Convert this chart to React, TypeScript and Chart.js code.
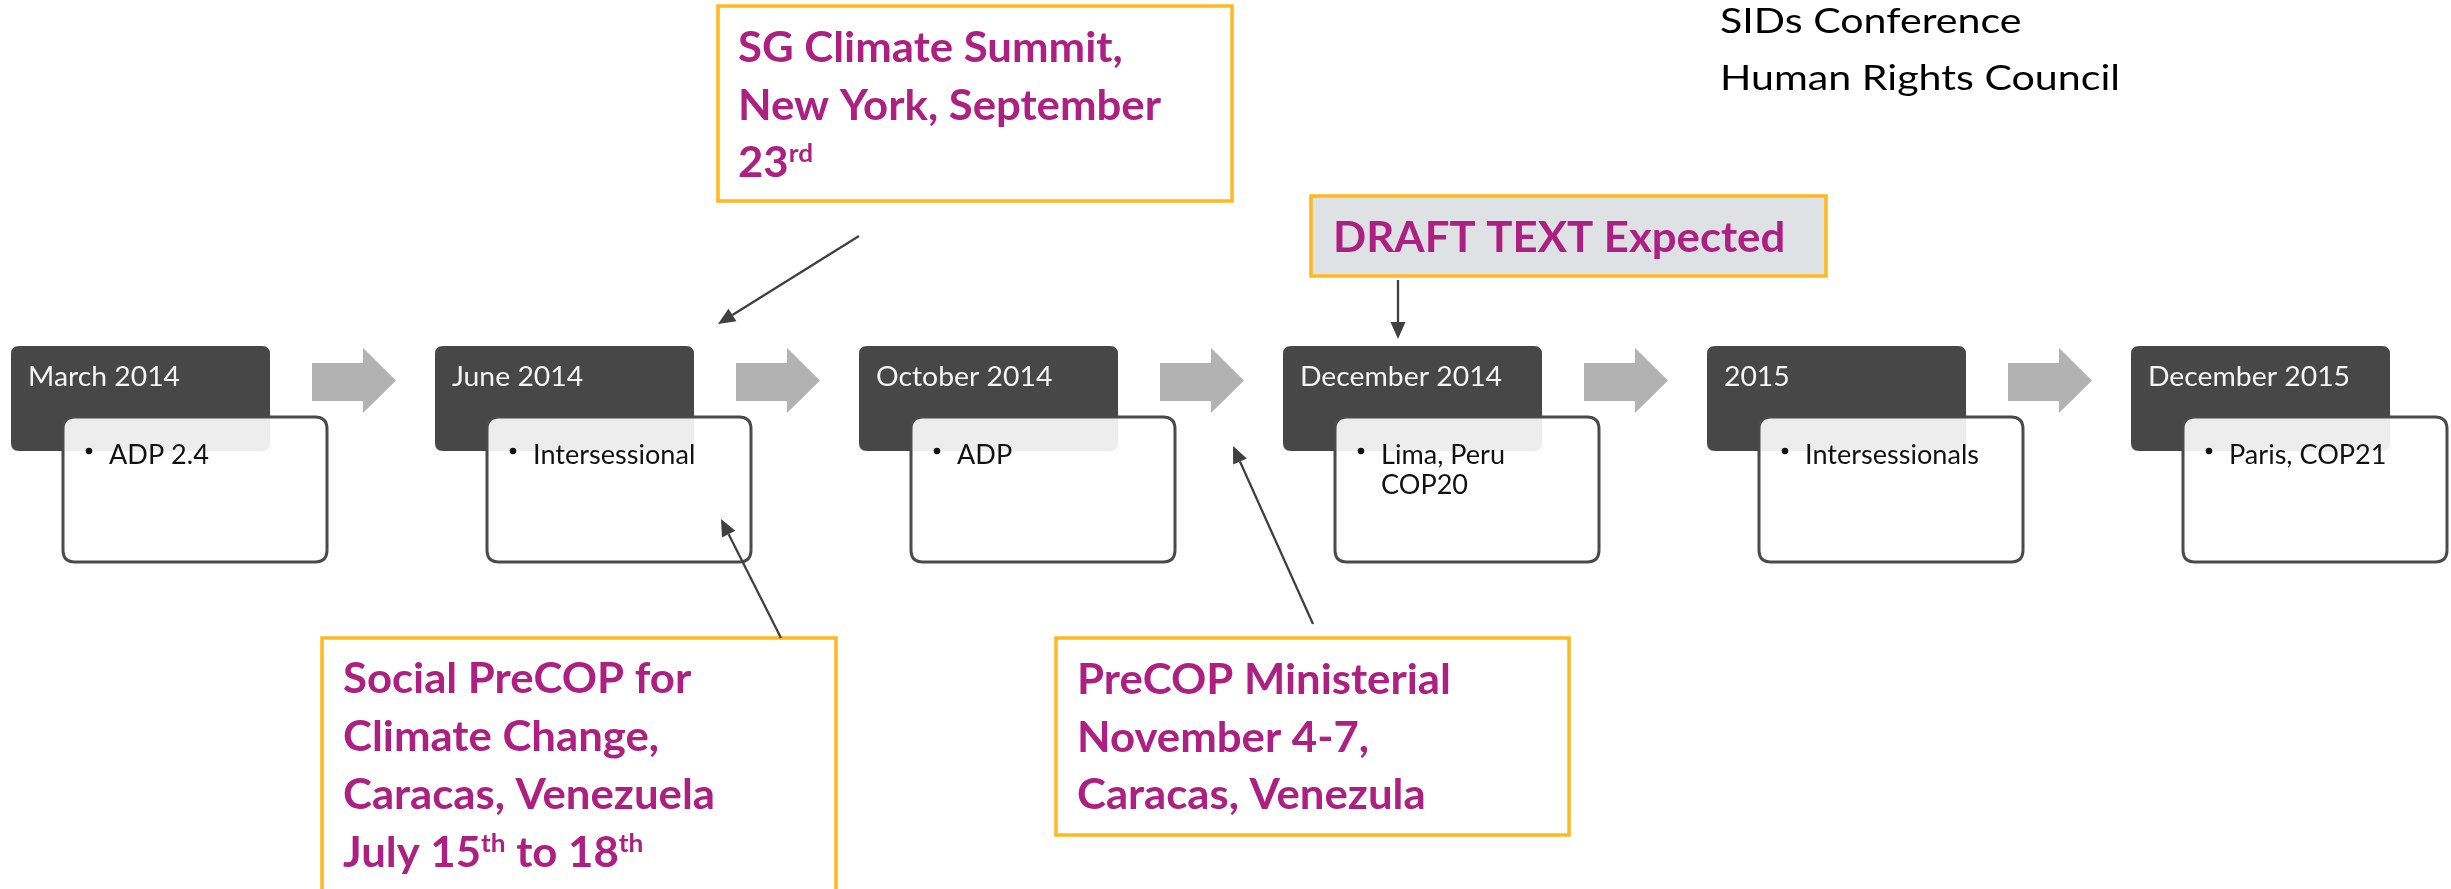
import React, { useEffect, useRef } from "react";
import { Chart, registerables } from "chart.js";

Chart.register(...registerables);

// ---------- data ----------
const stageDates = ["March 2014", "June 2014", "October 2014", "December 2014", "2015", "December 2015"];
const stageItems = [["ADP 2.4"], ["Intersessional"], ["ADP"], ["Lima, Peru", "COP20"], ["Intersessionals"], ["Paris, COP21"]];
const topNotes = ["SIDs Conference", "Human Rights Council"];
const sgSummitText = ["SG Climate Summit,", "New York, September", "23{rd}"];
const draftText = ["DRAFT TEXT Expected"];
const socialPrecopText = ["Social PreCOP for", "Climate Change,", "Caracas, Venezuela", "July 15{th} to 18{th}"];
const ministerialText = ["PreCOP Ministerial", "November 4-7,", "Caracas, Venezula"];

// ---------- layout (reference pixel units) ----------
const W = 2451;
const H = 889;
const STAGE_X0 = 141;
const STAGE_STEP = 424;
const REG = "Lato, 'DejaVu Sans', sans-serif";
const PURPLE = "#ad1f80";
const ORANGE = "#ffb81f";

const callouts = [
  { lines: sgSummitText, box: [718, 6, 1232, 201], fill: "#ffffff", tx: 738, ty: 62, lh: 57.5 },
  { lines: draftText, box: [1311, 196, 1826, 276], fill: "#dfe2e5", tx: 1333, ty: 252, lh: 57.5 },
  { lines: socialPrecopText, box: [322, 638, 836, 905], fill: "#ffffff", tx: 343, ty: 693, lh: 58 },
  { lines: ministerialText, box: [1056, 638, 1569, 835], fill: "#ffffff", tx: 1077, ty: 694, lh: 57.5 },
];
const connectors = [
  { from: [859, 236], to: [718, 324] },
  { from: [1398, 280], to: [1398, 339] },
  { from: [781, 638], to: [721, 519] },
  { from: [1313, 624], to: [1233, 446] },
];

function roundRect(ctx: CanvasRenderingContext2D, x0: number, y0: number, x1: number, y1: number, r: number) {
  ctx.beginPath();
  ctx.moveTo(x0 + r, y0);
  ctx.lineTo(x1 - r, y0);
  ctx.quadraticCurveTo(x1, y0, x1, y0 + r);
  ctx.lineTo(x1, y1 - r);
  ctx.quadraticCurveTo(x1, y1, x1 - r, y1);
  ctx.lineTo(x0 + r, y1);
  ctx.quadraticCurveTo(x0, y1, x0, y1 - r);
  ctx.lineTo(x0, y0 + r);
  ctx.quadraticCurveTo(x0, y0, x0 + r, y0);
  ctx.closePath();
}

function parseRuns(s: string): { t: string; sup: boolean }[] {
  const out: { t: string; sup: boolean }[] = [];
  const re = /\{([^}]*)\}/g;
  let last = 0;
  let m: RegExpExecArray | null;
  while ((m = re.exec(s))) {
    if (m.index > last) out.push({ t: s.slice(last, m.index), sup: false });
    out.push({ t: m[1], sup: true });
    last = m.index + m[0].length;
  }
  if (last < s.length) out.push({ t: s.slice(last), sup: false });
  return out;
}

function fitFactor(ctx: CanvasRenderingContext2D, font: string, sample: string, target: number) {
  ctx.save();
  ctx.font = font;
  const w = ctx.measureText(sample).width;
  ctx.restore();
  return w > 0 ? target / w : 1;
}

function drawRuns(ctx: CanvasRenderingContext2D, s: string, x: number, y: number, size: number, weight: string, family: string, sx: number, color: string) {
  ctx.fillStyle = color;
  ctx.textBaseline = "alphabetic";
  ctx.textAlign = "left";
  let cx = x;
  for (const r of parseRuns(s)) {
    const fs = r.sup ? size * 0.6 : size;
    const fy = r.sup ? y - size * 0.36 : y;
    ctx.font = `${weight} ${fs}px ${family}`;
    ctx.save();
    ctx.translate(cx, fy);
    ctx.scale(sx, 1);
    ctx.fillText(r.t, 0, 0);
    ctx.restore();
    cx += ctx.measureText(r.t).width * sx;
  }
}

function arrowLine(ctx: CanvasRenderingContext2D, x0: number, y0: number, x1: number, y1: number) {
  const ang = Math.atan2(y1 - y0, x1 - x0);
  const hl = 17;
  const hw = 7.5;
  const bx = x1 - hl * Math.cos(ang);
  const by = y1 - hl * Math.sin(ang);
  ctx.strokeStyle = "#404040";
  ctx.fillStyle = "#404040";
  ctx.lineWidth = 2.3;
  ctx.beginPath();
  ctx.moveTo(x0, y0);
  ctx.lineTo(bx, by);
  ctx.stroke();
  ctx.beginPath();
  ctx.moveTo(x1, y1);
  ctx.lineTo(bx + hw * Math.sin(ang), by - hw * Math.cos(ang));
  ctx.lineTo(bx - hw * Math.sin(ang), by + hw * Math.cos(ang));
  ctx.closePath();
  ctx.fill();
}

const timelinePlugin = {
  id: "timeline",
  afterDatasetsDraw(chart: any) {
    const ctx: CanvasRenderingContext2D = chart.ctx;
    const xs = chart.scales.x;
    const px = chart.scales.px;
    const ys = chart.scales.y;
    const X = (v: number) => px.getPixelForValue(v);
    const Y = (v: number) => ys.getPixelForValue(v);

    const titleFit = fitFactor(ctx, `400 27px ${REG}`, "December 2014", 202);
    const itemFit = fitFactor(ctx, `400 26px ${REG}`, "Intersessionals", 174);
    const noteFit = fitFactor(ctx, `400 35px ${REG}`, "Human Rights Council", 400);
    const boldFit = fitFactor(ctx, `700 42px ${REG}`, "New York, September", 423);

    ctx.save();
    // grey flow arrows
    for (let i = 0; i < stageDates.length - 1; i++) {
      const cx = xs.getPixelForValue(i);
      ctx.fillStyle = "#b2b2b2";
      ctx.beginPath();
      ctx.moveTo(cx + 171, Y(363));
      ctx.lineTo(cx + 222, Y(363));
      ctx.lineTo(cx + 222, Y(348));
      ctx.lineTo(cx + 255, Y(380.5));
      ctx.lineTo(cx + 222, Y(413));
      ctx.lineTo(cx + 222, Y(401));
      ctx.lineTo(cx + 171, Y(401));
      ctx.closePath();
      ctx.fill();
    }
    // stages
    stageDates.forEach((label, i) => {
      const cx = xs.getPixelForValue(i);
      roundRect(ctx, cx - 130, Y(346), cx + 129, Y(451), 8);
      ctx.fillStyle = "#474747";
      ctx.fill();
      drawRuns(ctx, label, cx - 113, Y(386), 27, "400", REG, titleFit, "#f4f4f4");

      roundRect(ctx, cx - 78, Y(417), cx + 186, Y(562), 12);
      ctx.fillStyle = "rgba(255,255,255,0.9)";
      ctx.fill();
      ctx.strokeStyle = "#4a4a4a";
      ctx.lineWidth = 3;
      ctx.stroke();

      const items = stageItems[i];
      ctx.fillStyle = "#111";
      ctx.beginPath();
      ctx.arc(cx - 52, Y(451), 3.3, 0, Math.PI * 2);
      ctx.fill();
      items.forEach((t, k) => {
        drawRuns(ctx, t, cx - 32, Y(464 + k * 30), 26, "400", REG, itemFit, "#111");
      });
    });

    // callouts
    for (const c of callouts) {
      const [x0, y0, x1, y1] = c.box;
      ctx.fillStyle = c.fill;
      ctx.fillRect(X(x0), Y(y0), X(x1) - X(x0), Y(y1) - Y(y0));
      ctx.strokeStyle = ORANGE;
      ctx.lineWidth = 3.5;
      ctx.strokeRect(X(x0), Y(y0), X(x1) - X(x0), Y(y1) - Y(y0));
      c.lines.forEach((t, k) => {
        drawRuns(ctx, t, X(c.tx), Y(c.ty + k * c.lh), 42, "700", REG, boldFit, PURPLE);
      });
    }
    // connector arrows
    for (const a of connectors) {
      arrowLine(ctx, X(a.from[0]), Y(a.from[1]), X(a.to[0]), Y(a.to[1]));
    }
    // top-right notes
    topNotes.forEach((t, k) => {
      drawRuns(ctx, t, X(1720), Y(33 + k * 57), 35, "400", REG, noteFit, "#000");
    });
    ctx.restore();
  },
};

export default function App() {
  const ref = useRef<HTMLCanvasElement | null>(null);
  useEffect(() => {
    document.body.style.margin = "0";
    const canvas = ref.current;
    if (!canvas) return;
    const chart = new Chart(canvas, {
      type: "scatter",
      data: {
        datasets: [
          {
            data: stageDates.map((_, i) => ({ x: i, y: 398 })),
            pointRadius: 0,
            showLine: false,
          },
        ],
      },
      options: {
        animation: false,
        responsive: false,
        devicePixelRatio: 1,
        layout: { padding: 0 },
        plugins: { legend: { display: false }, tooltip: { enabled: false }, title: { display: false } },
        events: [],
        scales: {
          x: { type: "linear", display: false, min: -STAGE_X0 / STAGE_STEP, max: (W - STAGE_X0) / STAGE_STEP },
          px: { type: "linear", axis: "x", display: false, min: 0, max: W },
          y: { type: "linear", display: false, min: 0, max: H, reverse: true },
        },
      },
      plugins: [timelinePlugin],
    });
    return () => chart.destroy();
  }, []);
  return (
    <div style={{ width: W, height: H, background: "#fff" }}>
      <canvas ref={ref} width={W} height={H} style={{ display: "block" }} />
    </div>
  );
}
